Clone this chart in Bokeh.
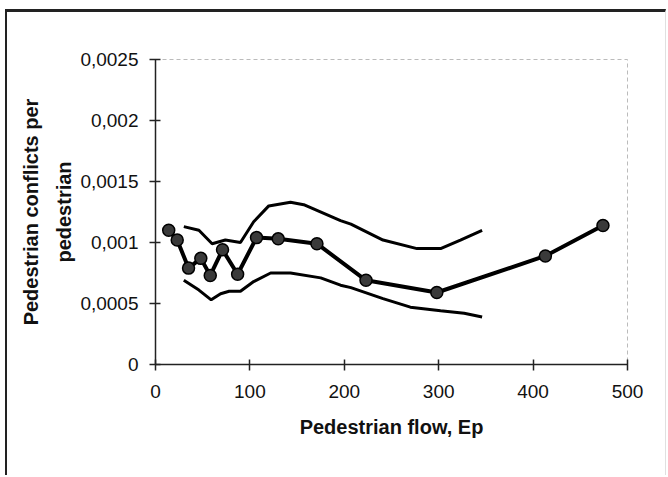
from bokeh.plotting import figure
from bokeh.models import FixedTicker, CustomJSTickFormatter, Range1d
from bokeh.embed import file_html
from bokeh.resources import INLINE

# Observed conflicts per pedestrian vs pedestrian flow
flow = [14, 23, 35, 48, 58, 71, 87, 107, 130, 171, 223, 298, 413, 474]
conflicts = [0.00110, 0.00102, 0.00079, 0.00087, 0.00073, 0.00094, 0.00074,
             0.00104, 0.00103, 0.00099, 0.00069, 0.00059, 0.00089, 0.00114]

# Upper band
upper_x = [30, 46, 60, 74, 90, 104, 120, 143, 157, 196, 207, 241, 277, 302, 323, 346]
upper_y = [0.00113, 0.00110, 0.00099, 0.00102, 0.00100, 0.00117, 0.00130, 0.00133,
           0.00131, 0.00118, 0.00115, 0.00102, 0.00095, 0.00095, 0.00102, 0.00110]

# Lower band
lower_x = [30, 46, 59, 69, 78, 90, 104, 122, 143, 175, 196, 207, 241, 270, 302, 327, 346]
lower_y = [0.00069, 0.00061, 0.00053, 0.00058, 0.00060, 0.00060, 0.00068, 0.00075,
           0.00075, 0.00071, 0.00065, 0.00063, 0.00054, 0.00047, 0.00044, 0.00042, 0.00039]

x_ticks = [0, 100, 200, 300, 400, 500]
y_ticks = [0, 0.0005, 0.001, 0.0015, 0.002, 0.0025]

FONT = "Liberation Sans"

p = figure(width=661, height=466, output_backend="svg", toolbar_location=None,
           x_range=Range1d(0, 500), y_range=Range1d(0, 0.0025),
           min_border_left=148, min_border_right=41, min_border_top=47, min_border_bottom=114)
p.styles = {"margin-left": "5px", "margin-top": "9px",
            "border-top": "3px solid #222", "border-left": "2px solid #222",
            "border-right": "1px solid #e0e0e0"}

p.line(upper_x, upper_y, line_color="black", line_width=3)
p.line(lower_x, lower_y, line_color="black", line_width=3)
p.line(flow, conflicts, line_color="black", line_width=4)
p.scatter(flow, conflicts, size=12, fill_color="#3a3a3a", line_color="black", line_width=1.5)

p.xgrid.visible = False
p.ygrid.visible = False
p.outline_line_color = "#bbbbbb"
p.outline_line_dash = "4 3"
p.outline_line_width = 1

p.xaxis.ticker = FixedTicker(ticks=x_ticks)
p.yaxis.ticker = FixedTicker(ticks=y_ticks)
p.yaxis.formatter = CustomJSTickFormatter(
    code="return parseFloat(tick.toFixed(4)).toString().replace('.', ',');")

for ax in (p.xaxis[0], p.yaxis[0]):
    ax.axis_line_color = "#222"
    ax.axis_line_width = 1.5
    ax.major_tick_line_color = "#222"
    ax.major_tick_line_width = 1.5
    ax.major_tick_in = 5
    ax.major_tick_out = 6
    ax.minor_tick_line_color = None
    ax.major_label_text_font = FONT
    ax.major_label_text_font_size = "19px"
    ax.major_label_text_color = "#111"
    ax.axis_label_text_font = FONT
    ax.axis_label_text_font_size = "20px"
    ax.axis_label_text_font_style = "bold"
    ax.axis_label_text_color = "#111"

p.xaxis.axis_label = "Pedestrian flow, Ep"
p.xaxis.major_label_standoff = 14
p.xaxis.axis_label_standoff = 15
p.yaxis.axis_label = "Pedestrian conflicts per\npedestrian"
p.yaxis.axis_label_text_line_height = 1.5
p.yaxis.major_label_standoff = 11
p.yaxis.axis_label_standoff = 2

open("out.html", "w").write(file_html(p, INLINE))
